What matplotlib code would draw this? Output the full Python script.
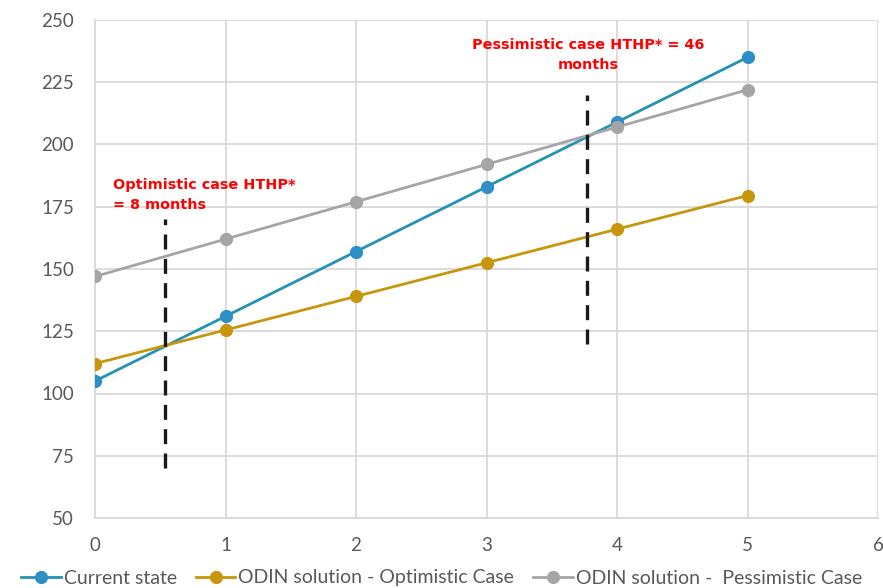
import matplotlib
matplotlib.use("Agg")
import matplotlib.pyplot as plt

years = [0, 1, 2, 3, 4, 5]
current_state = [105, 131, 157, 183, 209, 235]
optimistic = [112, 125.5, 139, 152.5, 166, 179.5]
pessimistic = [147, 162, 177, 192, 207, 222]
labels = ["Current state", "ODIN solution - Optimistic Case", "ODIN solution -  Pessimistic Case"]
x_ticks = [0, 1, 2, 3, 4, 5, 6]
y_ticks = [50, 75, 100, 125, 150, 175, 200, 225, 250]
opt_break_x = 0.54
opt_break_y = [70, 170]
pes_break_x = 3.77
pes_break_y = [120, 220]

fig = plt.figure(figsize=(8.83, 5.88), dpi=100)
ax = fig.add_axes([95/883, 1-518/588, (878-95)/883, (518-20)/588])

grid_c = "#d9d9d9"
line_specs = [
    (current_state, "#2592b2", "#2e8fc6"),
    (optimistic, "#c8960c", "#c8960c"),
    (pessimistic, "#a5a5a5", "#a5a5a5"),
]
handles = []
for (vals, lc, mc), lab in zip(line_specs, labels):
    h, = ax.plot(years, vals, color=lc, lw=2.0, marker="o", markersize=8.5,
                 markerfacecolor=mc, markeredgecolor=mc, label=lab, zorder=3)
    handles.append(h)

ax.plot([opt_break_x, opt_break_x], opt_break_y, color="#1a1a1a", lw=2.4,
        dashes=(4.5, 2.8), zorder=4)
ax.plot([pes_break_x, pes_break_x], pes_break_y, color="#1a1a1a", lw=2.4,
        dashes=(4.5, 2.8), zorder=4)

ax.set_xlim(0, 6)
ax.set_ylim(50, 250)
ax.set_xticks(x_ticks)
ax.set_yticks(y_ticks)
ax.grid(True, color=grid_c, lw=1.3)
ax.set_axisbelow(True)
for s in ["top", "right"]:
    ax.spines[s].set_visible(False)
for s in ["left", "bottom"]:
    ax.spines[s].set_color(grid_c)
    ax.spines[s].set_linewidth(1.3)
ax.tick_params(axis="y", length=0, pad=15, labelsize=13.5, labelcolor="#595959")
ax.tick_params(axis="x", length=0, pad=14, labelsize=13.5, labelcolor="#595959")
for t in ax.get_xticklabels() + ax.get_yticklabels():
    t.set_fontfamily("Lato")

tfont = dict(color="#ff0000", fontweight="bold", fontsize=10.4, family="DejaVu Sans", va="center")
ax.text(0.135, 183.6, "Optimistic case HTHP*", ha="left", **tfont)
ax.text(0.135, 175.6, "= 8 months", ha="left", **tfont)
ax.text((588-95)/130.5, 240, "Pessimistic case HTHP* = 46", ha="center", **tfont)
ax.text((588-95)/130.5, 231.9, "months", ha="center", **tfont)

leg = fig.legend(handles=handles, loc="center", bbox_to_anchor=(0.5, 1-578/588),
                 ncol=3, frameon=False, prop={"family": "Lato", "size": 14},
                 handlelength=2.05, handletextpad=0.15, columnspacing=0.95, borderaxespad=0)
for t in leg.get_texts():
    t.set_color("#595959")

fig.savefig("out.png", dpi=100)
